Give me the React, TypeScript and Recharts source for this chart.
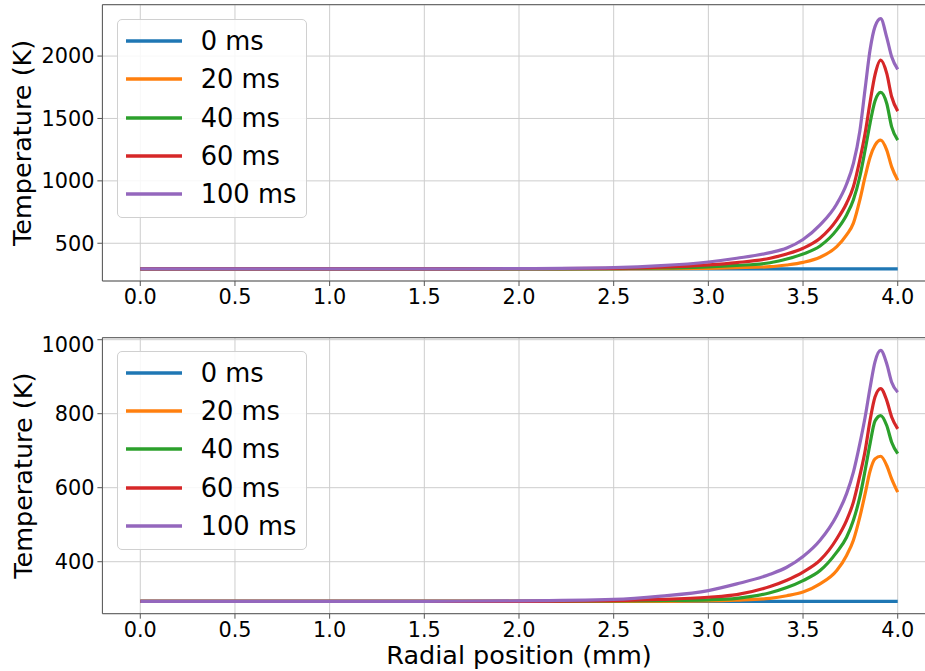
import React from 'react';
import { LineChart, Line, XAxis, YAxis, CartesianGrid, Legend, ReferenceLine } from 'recharts';

const RADIUS_MM = [0, 0.5, 1.0, 1.5, 2.0, 2.5, 2.75, 3.0, 3.15, 3.326, 3.414, 3.5, 3.59, 3.678, 3.73, 3.766, 3.8, 3.828, 3.854, 3.88, 3.91, 3.942, 3.968, 4.0];
const SERIES_NAMES = ['0 ms', '20 ms', '40 ms', '60 ms', '100 ms'];
const COLORS = ['#1f77b4', '#ff7f0e', '#2ca02c', '#d62728', '#9467bd'];
const X_TICKS = [0, 0.5, 1.0, 1.5, 2.0, 2.5, 3.0, 3.5, 4.0];

// Top panel temperatures (K)
const TOP_0MS = [295, 295, 295, 295, 295, 295, 295, 295, 295, 295, 295, 295, 295, 295, 295, 295, 295, 295, 295, 295, 295, 295, 295, 295];
const TOP_20MS = [295, 295, 295, 295, 295, 295, 296, 299, 304, 312, 326, 347, 388, 473, 567, 661, 848, 1035, 1190, 1285, 1326, 1246, 1112, 1005];
const TOP_40MS = [295, 295, 295, 295, 295, 297, 302, 310, 322, 344, 374, 414, 478, 607, 727, 848, 1035, 1249, 1463, 1640, 1709, 1620, 1433, 1326];
const TOP_60MS = [295, 295, 295, 295, 296, 299, 308, 326, 345, 380, 414, 460, 540, 687, 821, 954, 1169, 1383, 1630, 1850, 1968, 1861, 1674, 1559];
const TOP_100MS = [295, 295, 295, 295, 297, 305, 320, 350, 380, 425, 462, 530, 647, 815, 975, 1140, 1400, 1740, 2050, 2236, 2300, 2150, 1995, 1893];
const TOP_Y_TICKS = [500, 1000, 1500, 2000];

// Bottom panel temperatures (K)
const BOT_0MS = [293, 293, 293, 293, 293, 293, 293, 293, 293, 293, 293, 293, 293, 293, 293, 293, 293, 293, 293, 293, 293, 293, 293, 293];
const BOT_20MS = [293, 293, 293, 293, 293, 293, 293, 294, 296, 301, 308, 318, 340, 376, 417, 458, 521, 584, 645, 678, 685, 660, 624, 588];
const BOT_40MS = [293, 293, 293, 293, 293, 294, 295, 297, 301, 316, 330, 349, 376, 426, 466, 512, 575, 647, 719, 780, 795, 768, 723, 692];
const BOT_60MS = [293, 293, 293, 293, 293, 295, 298, 304, 311, 333, 350, 372, 404, 462, 512, 561, 633, 700, 782, 845, 868, 836, 791, 759];
const BOT_100MS = [293, 293, 293, 293, 294, 298, 307, 322, 340, 366, 385, 414, 458, 525, 584, 642, 719, 791, 870, 940, 971, 935, 885, 858];
const BOT_Y_TICKS = [400, 600, 800, 1000];

const KEYS = ['s0', 's20', 's40', 's60', 's100'];

function buildRows(series: number[][]) {
  return RADIUS_MM.map((x, i) => {
    const row: any = { x };
    KEYS.forEach((k, j) => {
      row[k] = series[j][i];
    });
    return row;
  });
}

const topData = buildRows([TOP_0MS, TOP_20MS, TOP_40MS, TOP_60MS, TOP_100MS]);
const botData = buildRows([BOT_0MS, BOT_20MS, BOT_40MS, BOT_60MS, BOT_100MS]);

const FONT = 'DejaVu Sans';
const SPINE = '#555555';
const GRID = '#cdcdcd';
const TICK_STYLE = { fontSize: 20.8, fill: '#000', fontFamily: FONT };

const LegendBox = () => {
  return (
    <div
      style={{
        width: 190,
        height: 199,
        boxSizing: 'border-box',
        border: '1px solid #d0d0d0',
        borderRadius: 5,
        background: 'rgba(255,255,255,0.85)',
        paddingTop: 2,
        fontFamily: FONT,
      }}
    >
      {SERIES_NAMES.map((name, i) => (
        <div key={name} style={{ height: 38.3, display: 'flex', alignItems: 'center', position: 'relative' }}>
          <svg width={56} height={6} style={{ position: 'absolute', left: 8 }}>
            <line x1={0} y1={3} x2={56} y2={3} stroke={COLORS[i]} strokeWidth={3.5} />
          </svg>
          <span style={{ position: 'absolute', left: 83, fontSize: 25.7, color: '#000', lineHeight: '38px' }}>{name}</span>
        </div>
      ))}
    </div>
  );
};

const YLabel = (props: any) => {
  const vb = props.viewBox || { x: 0, y: 0, width: 0, height: 0 };
  const cy = vb.y + vb.height / 2;
  const cx = 22.5;
  return (
    <text
      x={cx}
      y={cy}
      transform={`rotate(-90, ${cx}, ${cy})`}
      textAnchor="middle"
      dominantBaseline="central"
      fontSize={25.5}
      fontFamily={FONT}
      fill="#000"
    >
      Temperature (K)
    </text>
  );
};

const XLabel = (props: any) => {
  const vb = props.viewBox || { x: 0, y: 0, width: 0, height: 0 };
  const cx = vb.x + vb.width / 2;
  return (
    <text x={cx} y={331.4} textAnchor="middle" fontSize={25.5} fontFamily={FONT} fill="#000">
      Radial position (mm)
    </text>
  );
};

function Panel(props: {
  data: any[];
  domain: [number, number];
  yTicks: number[];
  height: number;
  xAxisHeight: number;
  legendTop: number;
  showXLabel: boolean;
}) {
  const { data, domain, yTicks, height, xAxisHeight, legendTop, showXLabel } = props;
  return (
    <LineChart width={940} height={height} data={data} margin={{ top: 4.7, right: 4.4, left: 0, bottom: 0 }}>
      <CartesianGrid stroke={GRID} strokeWidth={1} />
      <XAxis
        dataKey="x"
        type="number"
        domain={[-0.2, 4.2]}
        ticks={X_TICKS}
        allowDataOverflow
        tickFormatter={(v: number) => v.toFixed(1)}
        tick={TICK_STYLE}
        tickSize={5}
        tickMargin={3.5}
        height={xAxisHeight}
        axisLine={{ stroke: SPINE, strokeWidth: 1 }}
        tickLine={{ stroke: SPINE, strokeWidth: 1 }}
        label={showXLabel ? { content: XLabel } : undefined}
      />
      <YAxis
        type="number"
        domain={domain}
        ticks={yTicks}
        allowDataOverflow
        width={102.4}
        tick={TICK_STYLE}
        tickSize={5}
        tickMargin={3}
        axisLine={{ stroke: SPINE, strokeWidth: 1 }}
        tickLine={{ stroke: SPINE, strokeWidth: 1 }}
        label={{ content: YLabel }}
      />
      <ReferenceLine y={domain[1]} stroke={SPINE} strokeWidth={1} ifOverflow="visible" />
      <Legend
        layout="vertical"
        align="center"
        verticalAlign="middle"
        content={LegendBox}
        wrapperStyle={{ left: 116.7, top: legendTop, width: 190, height: 199 }}
      />
      {KEYS.map((k, i) => (
        <Line
          key={k}
          dataKey={k}
          name={SERIES_NAMES[i]}
          stroke={COLORS[i]}
          strokeWidth={3.2}
          dot={false}
          activeDot={false}
          type="monotone"
          isAnimationActive={false}
        />
      ))}
    </LineChart>
  );
}

export default function App() {
  return (
    <div
      style={{
        position: 'absolute',
        left: 0,
        top: 0,
        width: 925,
        height: 671,
        overflow: 'hidden',
        background: '#fff',
        fontFamily: FONT,
      }}
    >
      <div style={{ position: 'absolute', left: 0, top: 0 }}>
        <Panel
          data={topData}
          domain={[197.5, 2411.7]}
          yTicks={TOP_Y_TICKS}
          height={330}
          xAxisHeight={49}
          legendTop={19}
          showXLabel={false}
        />
      </div>
      <div style={{ position: 'absolute', left: 0, top: 332.6 }}>
        <Panel
          data={botData}
          domain={[259.5, 1005.4]}
          yTicks={BOT_Y_TICKS}
          height={338.4}
          xAxisHeight={57.7}
          legendTop={18.1}
          showXLabel={true}
        />
      </div>
    </div>
  );
}
